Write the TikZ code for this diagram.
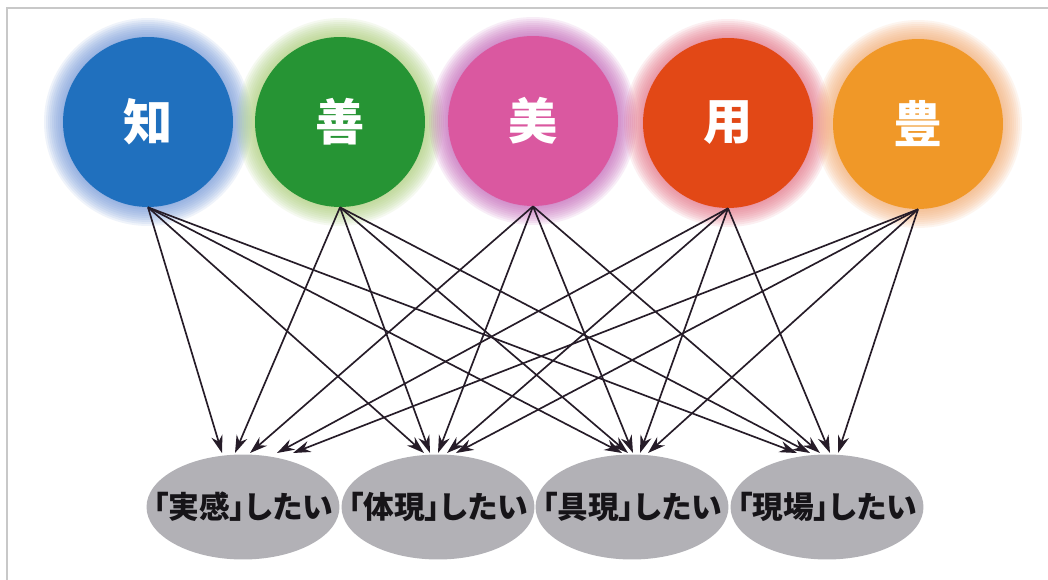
\documentclass[tikz,border=0pt]{standalone}
\usepackage{fontspec}
\newfontfamily\cjk{Noto Sans CJK JP}[RawFeature=+palt]
\usetikzlibrary{arrows.meta,shapes.geometric}
\definecolor{cblue}{RGB}{32,112,190}
\definecolor{cgreen}{RGB}{38,148,52}
\definecolor{cpink}{RGB}{218,88,160}
\definecolor{cred}{RGB}{226,72,22}
\definecolor{corange}{RGB}{240,152,40}
\definecolor{gblue}{RGB}{110,150,215}
\definecolor{ggreen}{RGB}{170,205,120}
\definecolor{gpink}{RGB}{195,100,185}
\definecolor{gred}{RGB}{228,110,130}
\definecolor{gorange}{RGB}{245,170,110}
\definecolor{ovalgray}{RGB}{178,177,182}
\definecolor{textdark}{RGB}{22,20,24}
\definecolor{arrowc}{RGB}{38,28,40}
\definecolor{framec}{RGB}{200,200,200}
\newcommand{\olabel}[1]{\makebox[0pt]{#1}}
\begin{document}
\begin{tikzpicture}[x=0.02cm,y=-0.02cm,
  circ/.style={circle, minimum size=3.4cm, inner sep=0pt, text=white,
    font=\cjk\bfseries\fontsize{28}{28}\selectfont},
  oval/.style={ellipse, minimum width=3.86cm, minimum height=2.1cm, inner sep=0pt,
    fill=ovalgray, text=textdark, font=\cjk\bfseries\fontsize{17.5}{17.5}\selectfont},
  arr/.style={-{Stealth[length=10pt,width=6.5pt]}, line width=0.95pt, draw=arrowc}]
\useasboundingbox (0,0) rectangle (1048,580);
\fill[white] (0,0) rectangle (1048,580);
\draw[framec, line width=0.6pt] (7,580) -- (7,8) -- (1048,8);
% glows
\foreach \x/\y/\g in {148/122/gblue, 340/122/ggreen, 533/121/gpink, 728/123/gred, 918/124/gorange}{
  \foreach \r in {2.08,2.04,2.0,1.96,1.92,1.88,1.84,1.80,1.76,1.72}{
    \fill[\g, fill opacity=0.11] (\x,\y) circle[radius=\r cm];
  }
}
% circles
\node[circ, fill=cblue]   (c1) at (148,122) {知};
\node[circ, fill=cgreen]  (c2) at (340,122) {善};
\node[circ, fill=cpink]   (c3) at (533,121) {美};
\node[circ, fill=cred]    (c4) at (728,123) {用};
\node[circ, fill=corange] (c5) at (918,124) {豊};
% ovals
\node[oval] (e1) at (243,507) {\olabel{「実感」したい}};
\node[oval] (e2) at (438,507) {\olabel{「体現」したい}};
\node[oval] (e3) at (632,507) {\olabel{「具現」したい}};
\node[oval] (e4) at (827,507) {\olabel{「現場」したい}};
% arrow targets
\foreach \s/\a/\b/\c/\d in {1/222/424/622/797, 2/235/430/628/810, 3/250/438/633/820, 4/277/447/640/830, 5/293/456/648/838}{
  \coordinate (t\s1) at (\a,453);
  \coordinate (t\s2) at (\b,453);
  \coordinate (t\s3) at (\c,453);
  \coordinate (t\s4) at (\d,453);
}
\foreach \s in {1,...,5}{
  \foreach \t in {1,...,4}{
    \draw[arr] (c\s.south) -- (t\s\t);
  }
}
\end{tikzpicture}
\end{document}
